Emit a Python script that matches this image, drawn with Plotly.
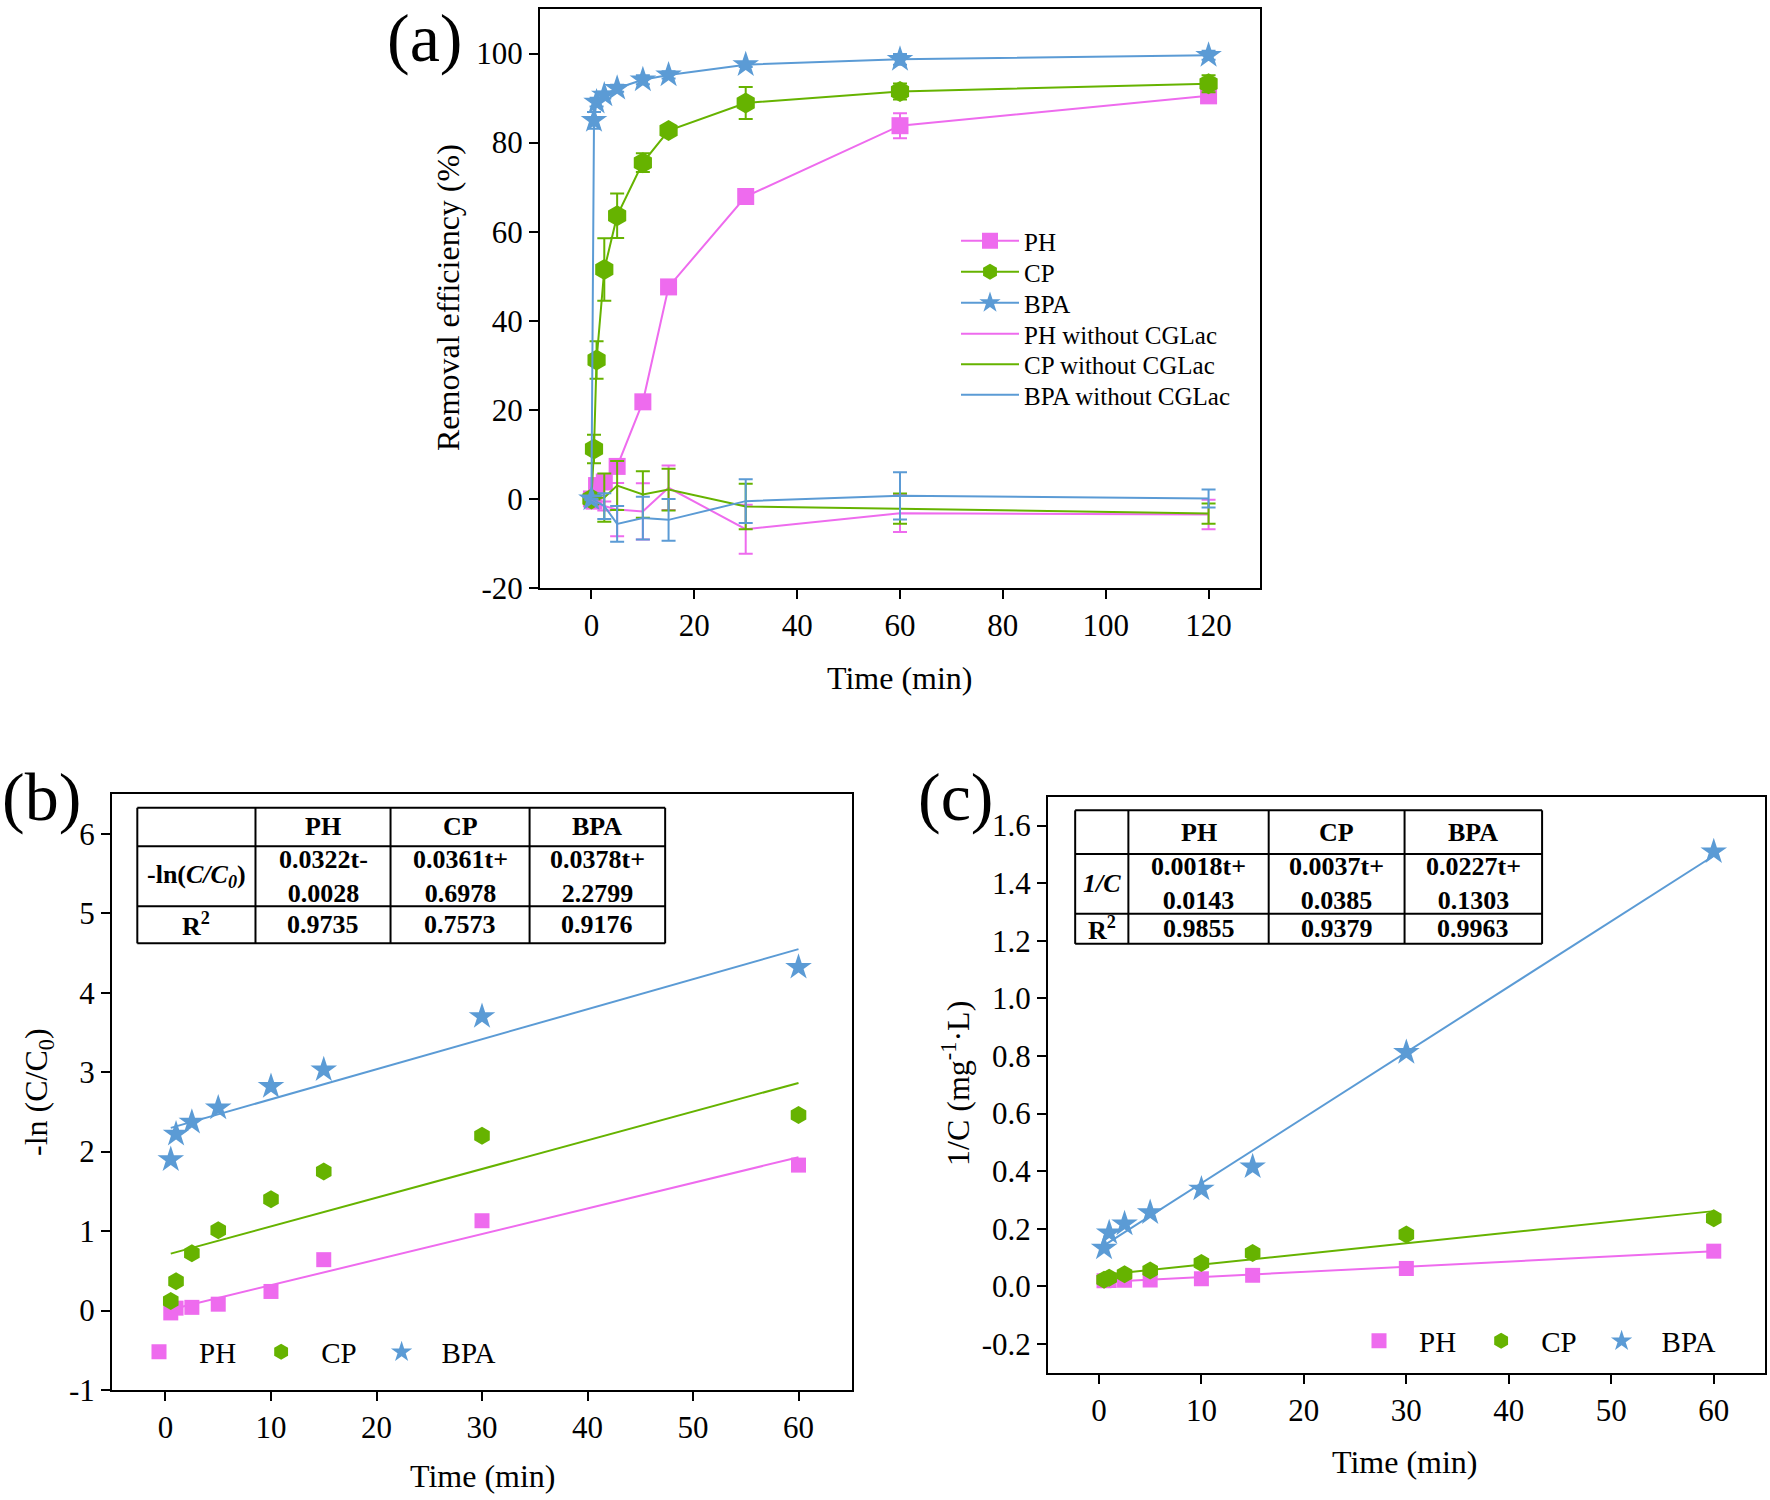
import plotly.graph_objects as go

FONT = "Liberation Serif"
PINK = "#EE6BEE"
GREEN = "#66B300"
BLUE = "#5B9BD5"

# ---------------- Panel (a) data ----------------
t_a = [0, 0.5, 1, 2.5, 5, 10, 15, 30, 60, 120]
ph_a = [0, -0.5, 3.0, 3.8, 7.3, 21.8, 47.6, 67.9, 83.8, 90.5]
ph_a_err = [0, 0.5, 1.0, 1.5, 1.5, 0.8, 0.8, 1.0, 2.8, 1.2]
cp_a = [0, 11.2, 31.2, 51.5, 63.6, 75.5, 82.7, 88.9, 91.5, 93.2]
cp_a_err = [0.5, 3.2, 4.2, 7.0, 5.0, 2.1, 1.0, 3.6, 1.8, 1.9]
bpa_a = [0, 85.0, 89.1, 90.7, 92.2, 94.1, 95.2, 97.5, 98.7, 99.6]
bpa_a_err = [0.3, 1.9, 1.0, 0.8, 0.8, 1.0, 0.8, 0.5, 1.2, 1.0]

t_w = [0, 2.5, 5, 10, 15, 30, 60, 120]
ph_w = [0, -1.6, -2.4, -2.8, 2.5, -6.8, -3.2, -3.5]
ph_w_err = [0, 1.0, 6.0, 6.3, 5.0, 5.5, 4.2, 3.3]
cp_w = [0, 0.3, 3.0, 1.0, 2.1, -1.7, -2.2, -3.3]
cp_w_err = [0, 5.4, 5.5, 5.2, 4.7, 5.1, 3.4, 2.3]
bpa_w = [0, -1.6, -5.6, -4.3, -4.7, -0.5, 0.7, 0.1]
bpa_w_err = [0, 2.9, 4.0, 4.8, 4.7, 4.9, 5.3, 2.0]

# ---------------- Panel (b) / (c) data ----------------
t_k = [0.5, 1, 2.5, 5, 10, 15, 30, 60]
ph_b = [-0.03, 0.03, 0.04, 0.08, 0.24, 0.64, 1.13, 1.83]
cp_b = [0.12, 0.37, 0.72, 1.01, 1.40, 1.75, 2.20, 2.46]
bpa_b = [1.90, 2.22, 2.37, 2.55, 2.82, 3.03, 3.70, 4.32]
t_fit = [0.5, 60]
ph_b_fit = [0.013, 1.929]
cp_b_fit = [0.716, 2.864]
bpa_b_fit = [2.299, 4.548]

ph_c = [0.019, 0.020, 0.021, 0.022, 0.026, 0.038, 0.062, 0.122]
cp_c = [0.023, 0.030, 0.042, 0.055, 0.081, 0.116, 0.180, 0.236]
bpa_c = [0.133, 0.186, 0.217, 0.256, 0.338, 0.415, 0.812, 1.509]
ph_c_fit = [0.015, 0.122]
cp_c_fit = [0.040, 0.261]
bpa_c_fit = [0.142, 1.495]

# tick labels
xa_ticks = [0, 20, 40, 60, 80, 100, 120]
ya_ticks = [-20, 0, 20, 40, 60, 80, 100]
xk_ticks = [0, 10, 20, 30, 40, 50, 60]
yb_ticks = [-1, 0, 1, 2, 3, 4, 5, 6]
yc_ticks = [-0.2, 0.0, 0.2, 0.4, 0.6, 0.8, 1.0, 1.2, 1.4, 1.6]
yc_ticktext = ["-0.2", "0.0", "0.2", "0.4", "0.6", "0.8", "1.0", "1.2", "1.4", "1.6"]

# table contents
tab_cols = ["", "PH", "CP", "BPA"]
tab_b_eq = ["-ln(<i>C/C<sub>0</sub></i>)", "0.0322t-<br>0.0028", "0.0361t+<br>0.6978", "0.0378t+<br>2.2799"]
tab_b_r2 = ["R<sup>2</sup>", "0.9735", "0.7573", "0.9176"]
tab_c_eq = ["<i>1/C</i>", "0.0018t+<br>0.0143", "0.0037t+<br>0.0385", "0.0227t+<br>0.1303"]
tab_c_r2 = ["R<sup>2</sup>", "0.9855", "0.9379", "0.9963"]

W, H = 1770, 1500

fig = go.Figure()

sym = {"PH": "square", "CP": "hexagon", "BPA": "star"}
col = {"PH": PINK, "CP": GREEN, "BPA": BLUE}
msize_a = {"PH": 17, "CP": 21, "BPA": 20}

# one legend box per row in panel (a) so the row pitch matches the reference
legend_ids_a = ["legend", "legend4", "legend5", "legend6", "legend7", "legend8"]
legend_rows_y = [241, 272, 303, 334, 364.5, 395]

i = 0
for name, ys, er in [("PH", ph_a, ph_a_err), ("CP", cp_a, cp_a_err), ("BPA", bpa_a, bpa_a_err)]:
    fig.add_trace(go.Scatter(
        x=t_a, y=ys, name=name, mode="lines+markers", xaxis="x", yaxis="y",
        line=dict(color=col[name], width=2),
        marker=dict(symbol=sym[name], size=msize_a[name], color=col[name]),
        error_y=dict(type="data", array=er, visible=True, color=col[name], thickness=2, width=7),
        legend=legend_ids_a[i]))
    i += 1

for name, ys, er in [("PH", ph_w, ph_w_err), ("CP", cp_w, cp_w_err), ("BPA", bpa_w, bpa_w_err)]:
    fig.add_trace(go.Scatter(
        x=t_w, y=ys, name=name + " without CGLac", mode="lines", xaxis="x", yaxis="y",
        line=dict(color=col[name], width=2),
        error_y=dict(type="data", array=er, visible=True, color=col[name], thickness=2, width=7),
        legend=legend_ids_a[i]))
    i += 1

msize_k = {"PH": 15, "CP": 18, "BPA": 20}
for name, fit in [("PH", ph_b_fit), ("CP", cp_b_fit), ("BPA", bpa_b_fit)]:
    fig.add_trace(go.Scatter(x=t_fit, y=fit, mode="lines", xaxis="x2", yaxis="y2",
                             line=dict(color=col[name], width=2), showlegend=False))
for name, ys in [("PH", ph_b), ("CP", cp_b), ("BPA", bpa_b)]:
    fig.add_trace(go.Scatter(x=t_k, y=ys, name=name, mode="markers", xaxis="x2", yaxis="y2",
                             marker=dict(symbol=sym[name], size=msize_k[name], color=col[name]),
                             legend="legend2"))

for name, fit in [("PH", ph_c_fit), ("CP", cp_c_fit), ("BPA", bpa_c_fit)]:
    fig.add_trace(go.Scatter(x=t_fit, y=fit, mode="lines", xaxis="x3", yaxis="y3",
                             line=dict(color=col[name], width=2), showlegend=False))
for name, ys in [("PH", ph_c), ("CP", cp_c), ("BPA", bpa_c)]:
    fig.add_trace(go.Scatter(x=t_k, y=ys, name=name, mode="markers", xaxis="x3", yaxis="y3",
                             marker=dict(symbol=sym[name], size=msize_k[name], color=col[name]),
                             legend="legend3"))

axis_common = dict(showline=True, linecolor="black", linewidth=2, mirror=True,
                   ticks="outside", ticklen=9, tickwidth=2, tickcolor="black",
                   showgrid=False, zeroline=False, tickmode="array",
                   tickfont=dict(family=FONT, size=31, color="black"))

def px_x(a, b):
    return [a / W, b / W]

def px_y(top, bottom):
    return [1 - bottom / H, 1 - top / H]

layout_legends = {}
for lid, yc in zip(legend_ids_a, legend_rows_y):
    layout_legends[lid] = dict(x=956 / W, y=1 - yc / H, xanchor="left", yanchor="middle",
                               bgcolor="rgba(0,0,0,0)", borderwidth=0, itemwidth=58,
                               font=dict(family=FONT, size=25, color="black"))

fig.update_layout(
    width=W, height=H, margin=dict(l=0, r=0, t=0, b=0, autoexpand=False),
    paper_bgcolor="white", plot_bgcolor="white",
    font=dict(family=FONT, color="black"),
    xaxis=dict(domain=px_x(540, 1260), range=[-10, 130], tickvals=xa_ticks,
               ticktext=[str(v) for v in xa_ticks], anchor="y", **axis_common),
    yaxis=dict(domain=px_y(9, 588), range=[-20, 110], tickvals=ya_ticks,
               ticktext=[str(v) for v in ya_ticks], anchor="x", **axis_common),
    xaxis2=dict(domain=px_x(112, 852), range=[-5.07, 65.07], tickvals=xk_ticks,
                ticktext=[str(v) for v in xk_ticks], anchor="y2", **axis_common),
    yaxis2=dict(domain=px_y(794, 1390), range=[-1, 6.5], tickvals=yb_ticks,
                ticktext=[str(v) for v in yb_ticks], anchor="x2", **axis_common),
    xaxis3=dict(domain=px_x(1048, 1765), range=[-4.97, 65], tickvals=xk_ticks,
                ticktext=[str(v) for v in xk_ticks], anchor="y3", **axis_common),
    yaxis3=dict(domain=px_y(796.7, 1372.7), range=[-0.3, 1.7], tickvals=yc_ticks,
                ticktext=yc_ticktext, anchor="x3", **axis_common),
    legend2=dict(x=(161 - 42) / W, y=1 - 1352 / H, xanchor="left", yanchor="middle",
                 orientation="h", bgcolor="rgba(0,0,0,0)", borderwidth=0, itemwidth=70,
                 font=dict(family=FONT, size=29, color="black")),
    legend3=dict(x=(1381 - 42) / W, y=1 - 1341 / H, xanchor="left", yanchor="middle",
                 orientation="h", bgcolor="rgba(0,0,0,0)", borderwidth=0, itemwidth=70,
                 font=dict(family=FONT, size=29, color="black")),
    **layout_legends,
)

annotations = []
shapes = []

def ann_px(text, x, y, size, angle=0):
    annotations.append(dict(text=text, x=x / W, y=1 - y / H, xref="paper", yref="paper",
                            showarrow=False, xanchor="center", yanchor="middle",
                            textangle=angle, font=dict(family=FONT, size=size, color="black")))

# panel labels
ann_px("(a)", 424, 38, 68)
ann_px("(b)", 41, 797, 68)
ann_px("(c)", 955, 797, 68)
# axis titles
ann_px("Time (min)", 900, 678, 32)
ann_px("Removal efficiency (%)", 448, 298, 32, -90)
ann_px("Time (min)", 483, 1476, 32)
ann_px("-ln (C/C<sub>0</sub>)", 38, 1092, 32, -90)
ann_px("Time (min)", 1405, 1462, 32)
ann_px("1/C (mg<sup>-1</sup>·L)", 956, 1084, 32, -90)

def table(xax, yax, xs, ys, rows):
    xr, yr = xax + " domain", yax + " domain"
    for xv in xs:
        shapes.append(dict(type="line", xref=xr, yref=yr, x0=xv, x1=xv, y0=ys[-1], y1=ys[0],
                           line=dict(color="black", width=2)))
    for yv in ys:
        shapes.append(dict(type="line", xref=xr, yref=yr, x0=xs[0], x1=xs[-1], y0=yv, y1=yv,
                           line=dict(color="black", width=2)))
    for r, row in enumerate(rows):
        yc = (ys[r] + ys[r + 1]) / 2
        for c, txt in enumerate(row):
            if not txt:
                continue
            xc = (xs[c] + xs[c + 1]) / 2
            annotations.append(dict(text="<b>" + txt + "</b>", x=xc, y=yc, xref=xr, yref=yr,
                                    showarrow=False, xanchor="center", yanchor="middle",
                                    font=dict(family=FONT, size=26, color="black")))

table("x2", "y2", [0.0342, 0.1939, 0.3764, 0.5643, 0.7475], [0.9769, 0.9125, 0.8115, 0.7494],
      [tab_cols, tab_b_eq, tab_b_r2])
table("x3", "y3", [0.0379, 0.1121, 0.3078, 0.4973, 0.6891], [0.9763, 0.9004, 0.7967, 0.7445],
      [tab_cols, tab_c_eq, tab_c_r2])

fig.update_layout(annotations=annotations, shapes=shapes)

fig.write_html("out.html", config={"displayModeBar": False},
               post_script="document.body.style.margin='0';document.body.style.overflow='hidden';")
